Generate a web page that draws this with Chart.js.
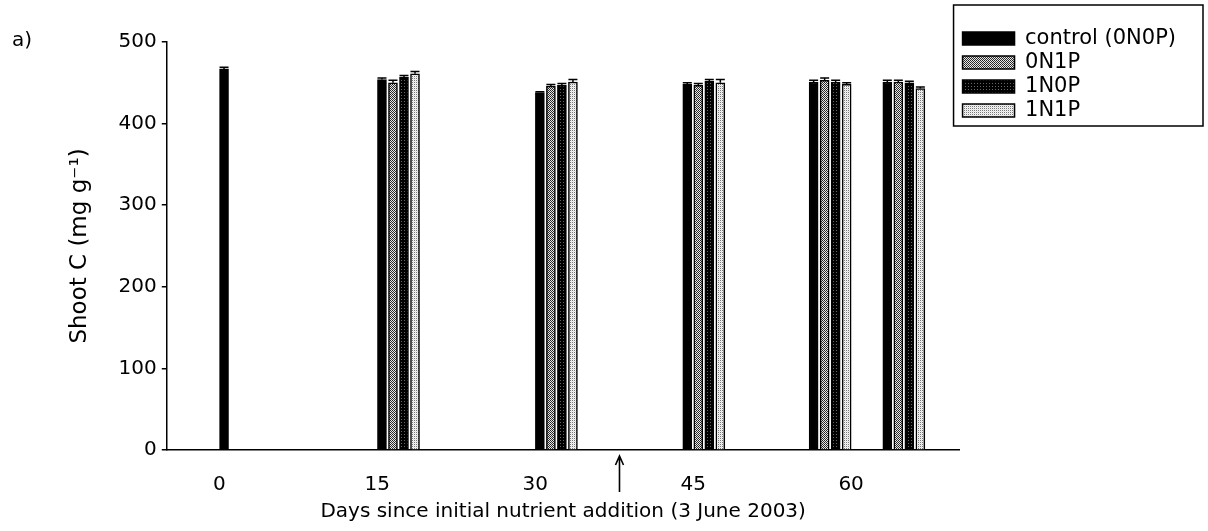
<!DOCTYPE html>
<html>
<head>
<meta charset="utf-8">
<script src="https://cdn.jsdelivr.net/npm/chart.js@4.4.1/dist/chart.umd.min.js"></script>
<style>
  body { margin: 0; background: #fff; }
  canvas { display: block; }
</style>
</head>
<body>
<canvas id="shootC" width="1208" height="531"></canvas>
<script>
// sampling days (bars start at the day)
const days = [0, 15, 30, 44, 56, 63];
const tickDays = [0, 15, 30, 45, 60];
const arrowDay = 38; // second nutrient addition

const control = [467, 454, 438, 448, 451, 451];
const n0p1 = [null, 450, 446, 447, 453, 451];
const n1p0 = [null, 457, 447, 452, 451, 450];
const n1p1 = [null, 461, 451, 450, 448, 443];

const controlErr = [2, 2, 1, 2, 2, 2];
const n0p1Err = [null, 3, 2, 2, 3, 2];
const n1p0Err = [null, 2, 2, 2, 2, 2];
const n1p1Err = [null, 3, 3, 4, 2, 2];

Chart.defaults.font.family = 'DejaVu Sans';
Chart.defaults.color = '#000';

// little stipple tiles for the hatched bars
function stipple(cells, size) {
  const c = document.createElement('canvas');
  c.width = size; c.height = size;
  const g = c.getContext('2d');
  cells.forEach((col, i) => {
    g.fillStyle = col;
    g.fillRect(i % size, Math.floor(i / size), 1, 1);
  });
  return g.createPattern(c, 'repeat');
}
const pat0N1P = stipple(['#222', '#e8e8e8', '#e8e8e8', '#333'], 2);
const pat1N0P = stipple(['#000', '#000', '#000', '#000', '#000', '#000', '#000', '#000', '#666'], 3);
const pat1N1P = stipple(['#777', '#f4f4f4', '#f4f4f4', '#e0e0e0'], 2);

const barSlot = 1.046; // days between neighbouring bars in a group
function toPoints(vals, k) {
  return days.map((d, i) => ({ x: d + barSlot * (k + 0.42), y: vals[i] }));
}

const errorsBySet = [controlErr, n0p1Err, n1p0Err, n1p1Err];

const errorBars = {
  id: 'errorBars',
  afterDatasetsDraw(chart) {
    const ctx = chart.ctx;
    const y = chart.scales.y;
    ctx.save();
    ctx.strokeStyle = '#000';
    ctx.lineWidth = 1.5;
    chart.data.datasets.forEach((ds, k) => {
      const meta = chart.getDatasetMeta(k);
      meta.data.forEach((bar, i) => {
        const v = ds.data[i].y, e = errorsBySet[k][i];
        if (v == null || e == null) return;
        const top = y.getPixelForValue(v + e);
        ctx.beginPath();
        ctx.moveTo(bar.x, bar.y);
        ctx.lineTo(bar.x, top);
        ctx.moveTo(bar.x - 4.5, top);
        ctx.lineTo(bar.x + 4.5, top);
        ctx.stroke();
      });
    });
    ctx.restore();
  }
};

const extras = {
  id: 'extras',
  afterDraw(chart) {
    const ctx = chart.ctx;
    const area = chart.chartArea;
    const x = chart.scales.x.getPixelForValue(arrowDay);
    ctx.save();
    ctx.strokeStyle = '#000';
    ctx.lineWidth = 1.6;
    ctx.beginPath();
    ctx.moveTo(x, area.bottom + 6);
    ctx.lineTo(x, area.bottom + 42);
    ctx.moveTo(x - 4, area.bottom + 15);
    ctx.lineTo(x, area.bottom + 6);
    ctx.lineTo(x + 4, area.bottom + 15);
    ctx.stroke();

    // frame round the legend
    const lg = chart.legend;
    const last = lg.legendHitBoxes[lg.legendHitBoxes.length - 1];
    ctx.lineWidth = 1.5;
    ctx.strokeRect(lg.left - 6, 5, chart.width - 5 - (lg.left - 6), last.top + last.height);

    ctx.fillStyle = '#000';
    ctx.font = '20px "DejaVu Sans"';
    ctx.textBaseline = 'middle';
    ctx.fillText('a)', 12, 41);
    ctx.restore();
  }
};

new Chart(document.getElementById('shootC'), {
  type: 'bar',
  data: {
    datasets: [
      { label: 'control (0N0P)', data: toPoints(control, 0), backgroundColor: '#000' },
      { label: '0N1P', data: toPoints(n0p1, 1), backgroundColor: pat0N1P },
      { label: '1N0P', data: toPoints(n1p0, 2), backgroundColor: pat1N0P },
      { label: '1N1P', data: toPoints(n1p1, 3), backgroundColor: pat1N1P }
    ]
  },
  options: {
    responsive: false,
    animation: false,
    grouped: false,
    barThickness: 9,
    borderColor: '#000',
    borderWidth: 1.5,
    layout: { padding: { left: 60, top: 25, right: 22, bottom: 0 } },
    scales: {
      x: {
        type: 'linear',
        offset: false,
        min: -5,
        max: 70.3,
        afterBuildTicks: (scale) => { scale.ticks = tickDays.map(v => ({ value: v })); },
        grid: { display: false, drawTicks: false },
        border: { color: '#000', width: 1.5 },
        ticks: { padding: 23, font: { size: 20 }, maxRotation: 0 },
        title: {
          display: true,
          text: 'Days since initial nutrient addition (3 June 2003)',
          font: { size: 20 },
          padding: { top: -20, bottom: 7 }
        }
      },
      y: {
        min: 0,
        max: 500,
        ticks: { stepSize: 100, padding: 5, font: { size: 20 } },
        grid: { drawOnChartArea: false, tickLength: 5, color: '#000', lineWidth: 1.5 },
        border: { color: '#000', width: 1.5 },
        title: {
          display: true,
          text: 'Shoot C (mg g\u207B\u00B9)',
          font: { size: 23 },
          padding: { top: 6, bottom: 20 }
        }
      }
    },
    plugins: {
      title: { display: true, text: [], fullSize: false, padding: { top: 17, bottom: 0 } },
      legend: {
        position: 'right',
        align: 'start',
        labels: { boxWidth: 52, boxHeight: 13, padding: 3, font: { size: 21 } }
      },
      tooltip: { enabled: false }
    }
  },
  plugins: [errorBars, extras]
});
</script>
</body>
</html>
